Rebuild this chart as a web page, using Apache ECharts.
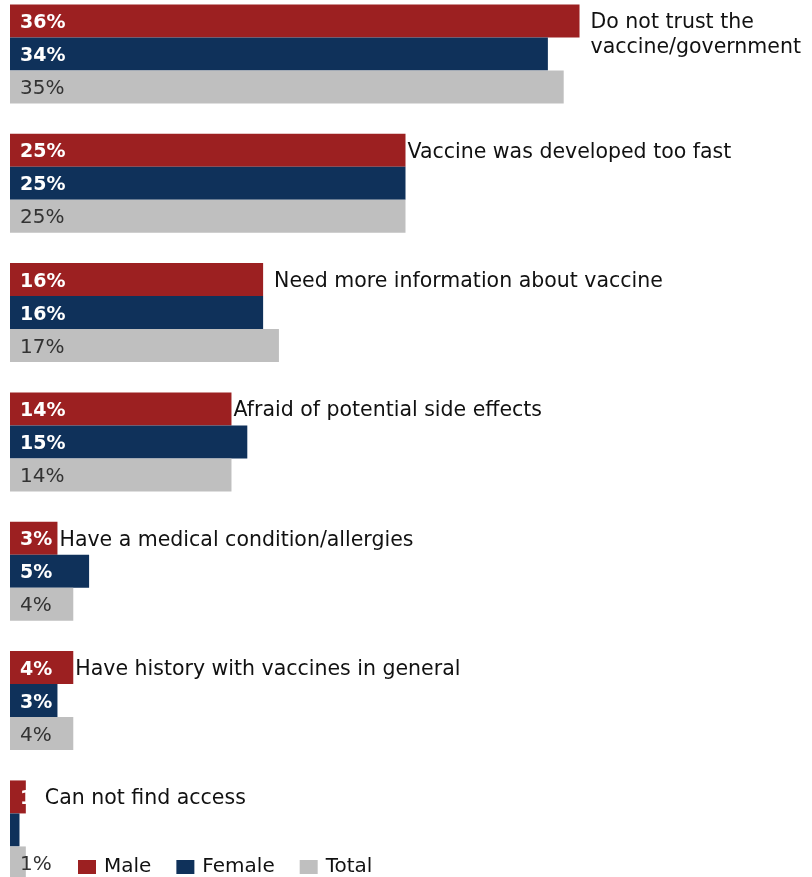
<!DOCTYPE html>
<html>
<head>
<meta charset="utf-8">
<script src="https://cdn.jsdelivr.net/npm/echarts@6/dist/echarts.min.js"></script>
<style>
  html, body { margin: 0; padding: 0; background: #fff; }
  #chart { width: 812px; height: 877px; }
</style>
</head>
<body>
<div id="chart"></div>
<script>
// Reasons for not getting the vaccine, by gender (percent)
const categories = [
  'Do not trust the\nvaccine/government',
  'Vaccine was developed too fast',
  'Need more information about vaccine',
  'Afraid of potential side effects',
  'Have a medical condition/allergies',
  'Have history with vaccines in general',
  'Can not find access'
];
const seriesNames = ['Male', 'Female', 'Total'];
const male   = [36, 25, 16, 14, 3, 4, 1];
const female = [34, 25, 16, 15, 5, 3, 0.6];
const total  = [35, 25, 17, 14, 4, 4, 1];

const COLORS = { Male: '#9c2021', Female: '#0f315a', Total: '#bfbfbf' };
const FONT = 'DejaVu Sans';

// Extra horizontal nudges (px) for the category name labels
const NAME_NUDGE_X = [9, 0, 9, 0, 0, 0, 17];

const valueLabel = (color, weight, size) => ({
  show: true,
  position: 'insideLeft',
  distance: 10,
  offset: [0, 2],
  formatter: '{c}%',
  color: color,
  fontFamily: FONT,
  fontWeight: weight,
  fontSize: size
});

// Male value labels: the tiny last bar clips its label
const maleData = male.map(v => {
  if (v < 2) {
    return { value: v, label: { width: 20, overflow: 'truncate', ellipsis: '' } };
  }
  return v;
});
// Female value label hidden where the bar is too narrow to hold it
const femaleData = female.map(v => (v < 1 ? { value: v, label: { show: false } } : v));

// Category names sit to the right of each Male bar (zero-width stacked helper)
const nameData = categories.map((c, i) => ({
  value: 0,
  label: { offset: [NAME_NUDGE_X[i], i === 0 ? 14.5 : 2] }
}));

const chart = echarts.init(document.getElementById('chart'));
chart.setOption({
  animation: false,
  backgroundColor: '#fff',
  grid: { left: 10, top: -10.7, width: 791, height: 905.3, outerBoundsMode: 'none' },
  xAxis: { type: 'value', min: 0, max: 50, show: false },
  yAxis: { type: 'category', data: categories, inverse: true, show: false },
  legend: {
    data: seriesNames,
    left: 73,
    top: 852,
    icon: 'rect',
    itemWidth: 18,
    itemHeight: 14,
    itemGap: 25,
    textStyle: { fontFamily: FONT, fontSize: 20, color: '#111', padding: [0, 0, 0, 3] }
  },
  series: [
    {
      name: 'Male', type: 'bar', stack: 'm', data: maleData,
      barWidth: 33, barGap: '0%',
      itemStyle: { color: COLORS.Male },
      label: valueLabel('#fff', 'bold', 19)
    },
    {
      name: 'names', type: 'bar', stack: 'm', data: nameData,
      barWidth: 33, barGap: '0%', silent: true,
      itemStyle: { color: 'transparent' },
      label: {
        show: true, position: 'right', distance: 2,
        formatter: p => categories[p.dataIndex],
        color: '#111', fontFamily: FONT, fontSize: 20.5, lineHeight: 25
      }
    },
    {
      name: 'Female', type: 'bar', data: femaleData,
      barWidth: 33, barGap: '0%',
      itemStyle: { color: COLORS.Female },
      label: valueLabel('#fff', 'bold', 19)
    },
    {
      name: 'Total', type: 'bar', data: total,
      barWidth: 33, barGap: '0%',
      itemStyle: { color: COLORS.Total },
      label: valueLabel('#333', 'normal', 20)
    }
  ]
});
</script>
</body>
</html>
